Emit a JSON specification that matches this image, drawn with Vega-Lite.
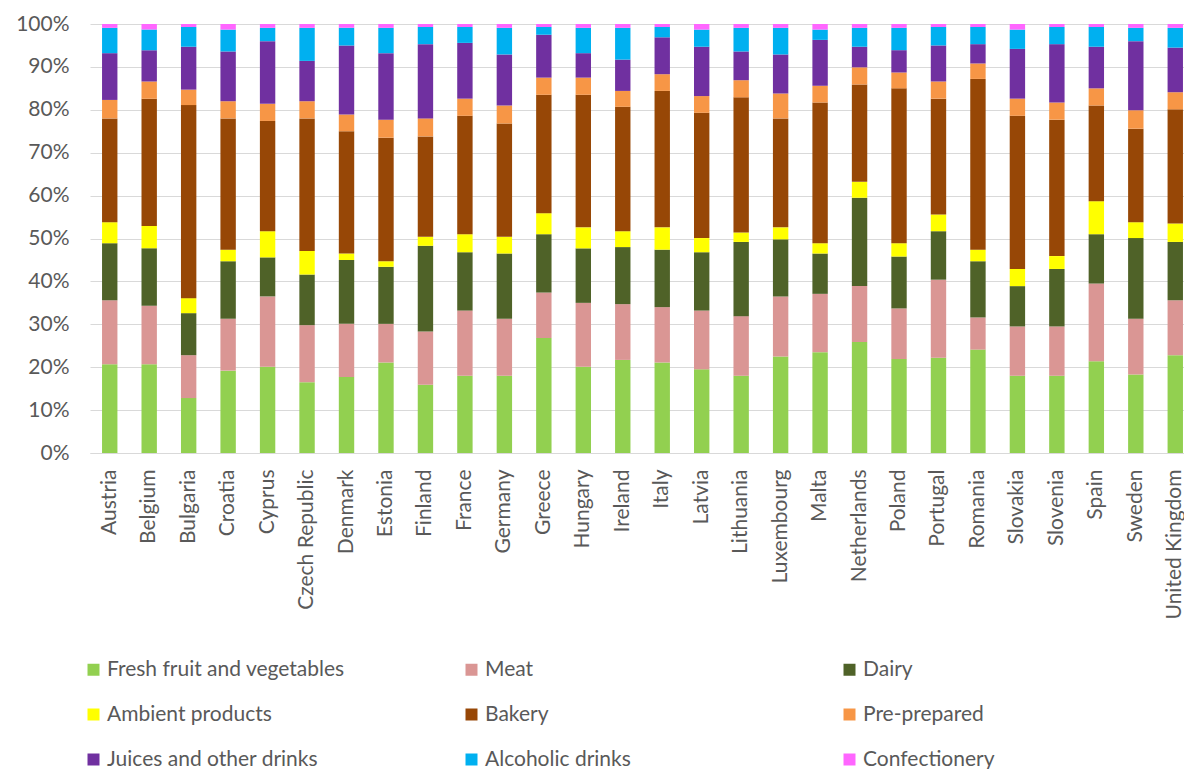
{
  "$schema": "https://vega.github.io/schema/vega-lite/v6.json",
  "autosize": {"type": "none"},
  "padding": {"left": 90, "top": 24, "right": 0, "bottom": 316},
  "width": 1094,
  "height": 429,
  "background": "white",
  "config": {"view": {"stroke": null}, "font": "Lato"},
  "data": {"values": [
    {"country": "Austria", "group": "Fresh fruit and vegetables", "share": 20.7},
    {"country": "Austria", "group": "Meat", "share": 14.9},
    {"country": "Austria", "group": "Dairy", "share": 13.3},
    {"country": "Austria", "group": "Ambient products", "share": 4.9},
    {"country": "Austria", "group": "Bakery", "share": 24.2},
    {"country": "Austria", "group": "Pre-prepared", "share": 4.3},
    {"country": "Austria", "group": "Juices and other drinks", "share": 10.9},
    {"country": "Austria", "group": "Alcoholic drinks", "share": 5.9},
    {"country": "Austria", "group": "Confectionery", "share": 0.9},
    {"country": "Belgium", "group": "Fresh fruit and vegetables", "share": 20.7},
    {"country": "Belgium", "group": "Meat", "share": 13.6},
    {"country": "Belgium", "group": "Dairy", "share": 13.4},
    {"country": "Belgium", "group": "Ambient products", "share": 5.2},
    {"country": "Belgium", "group": "Bakery", "share": 29.7},
    {"country": "Belgium", "group": "Pre-prepared", "share": 4.0},
    {"country": "Belgium", "group": "Juices and other drinks", "share": 7.3},
    {"country": "Belgium", "group": "Alcoholic drinks", "share": 4.8},
    {"country": "Belgium", "group": "Confectionery", "share": 1.3},
    {"country": "Bulgaria", "group": "Fresh fruit and vegetables", "share": 12.8},
    {"country": "Bulgaria", "group": "Meat", "share": 10.0},
    {"country": "Bulgaria", "group": "Dairy", "share": 9.8},
    {"country": "Bulgaria", "group": "Ambient products", "share": 3.5},
    {"country": "Bulgaria", "group": "Bakery", "share": 45.0},
    {"country": "Bulgaria", "group": "Pre-prepared", "share": 3.6},
    {"country": "Bulgaria", "group": "Juices and other drinks", "share": 10.0},
    {"country": "Bulgaria", "group": "Alcoholic drinks", "share": 4.6},
    {"country": "Bulgaria", "group": "Confectionery", "share": 0.7},
    {"country": "Croatia", "group": "Fresh fruit and vegetables", "share": 19.2},
    {"country": "Croatia", "group": "Meat", "share": 12.1},
    {"country": "Croatia", "group": "Dairy", "share": 13.4},
    {"country": "Croatia", "group": "Ambient products", "share": 2.7},
    {"country": "Croatia", "group": "Bakery", "share": 30.6},
    {"country": "Croatia", "group": "Pre-prepared", "share": 4.0},
    {"country": "Croatia", "group": "Juices and other drinks", "share": 11.6},
    {"country": "Croatia", "group": "Alcoholic drinks", "share": 5.1},
    {"country": "Croatia", "group": "Confectionery", "share": 1.3},
    {"country": "Cyprus", "group": "Fresh fruit and vegetables", "share": 20.1},
    {"country": "Cyprus", "group": "Meat", "share": 16.4},
    {"country": "Cyprus", "group": "Dairy", "share": 9.1},
    {"country": "Cyprus", "group": "Ambient products", "share": 6.1},
    {"country": "Cyprus", "group": "Bakery", "share": 25.7},
    {"country": "Cyprus", "group": "Pre-prepared", "share": 4.0},
    {"country": "Cyprus", "group": "Juices and other drinks", "share": 14.6},
    {"country": "Cyprus", "group": "Alcoholic drinks", "share": 3.1},
    {"country": "Cyprus", "group": "Confectionery", "share": 0.9},
    {"country": "Czech Republic", "group": "Fresh fruit and vegetables", "share": 16.5},
    {"country": "Czech Republic", "group": "Meat", "share": 13.3},
    {"country": "Czech Republic", "group": "Dairy", "share": 11.8},
    {"country": "Czech Republic", "group": "Ambient products", "share": 5.5},
    {"country": "Czech Republic", "group": "Bakery", "share": 30.9},
    {"country": "Czech Republic", "group": "Pre-prepared", "share": 4.0},
    {"country": "Czech Republic", "group": "Juices and other drinks", "share": 9.4},
    {"country": "Czech Republic", "group": "Alcoholic drinks", "share": 7.7},
    {"country": "Czech Republic", "group": "Confectionery", "share": 0.9},
    {"country": "Denmark", "group": "Fresh fruit and vegetables", "share": 17.7},
    {"country": "Denmark", "group": "Meat", "share": 12.4},
    {"country": "Denmark", "group": "Dairy", "share": 14.9},
    {"country": "Denmark", "group": "Ambient products", "share": 1.5},
    {"country": "Denmark", "group": "Bakery", "share": 28.5},
    {"country": "Denmark", "group": "Pre-prepared", "share": 3.9},
    {"country": "Denmark", "group": "Juices and other drinks", "share": 16.1},
    {"country": "Denmark", "group": "Alcoholic drinks", "share": 4.1},
    {"country": "Denmark", "group": "Confectionery", "share": 0.9},
    {"country": "Estonia", "group": "Fresh fruit and vegetables", "share": 21.1},
    {"country": "Estonia", "group": "Meat", "share": 9.0},
    {"country": "Estonia", "group": "Dairy", "share": 13.3},
    {"country": "Estonia", "group": "Ambient products", "share": 1.3},
    {"country": "Estonia", "group": "Bakery", "share": 28.8},
    {"country": "Estonia", "group": "Pre-prepared", "share": 4.2},
    {"country": "Estonia", "group": "Juices and other drinks", "share": 15.5},
    {"country": "Estonia", "group": "Alcoholic drinks", "share": 5.9},
    {"country": "Estonia", "group": "Confectionery", "share": 0.9},
    {"country": "Finland", "group": "Fresh fruit and vegetables", "share": 15.9},
    {"country": "Finland", "group": "Meat", "share": 12.4},
    {"country": "Finland", "group": "Dairy", "share": 20.0},
    {"country": "Finland", "group": "Ambient products", "share": 2.1},
    {"country": "Finland", "group": "Bakery", "share": 23.4},
    {"country": "Finland", "group": "Pre-prepared", "share": 4.2},
    {"country": "Finland", "group": "Juices and other drinks", "share": 17.3},
    {"country": "Finland", "group": "Alcoholic drinks", "share": 4.0},
    {"country": "Finland", "group": "Confectionery", "share": 0.7},
    {"country": "France", "group": "Fresh fruit and vegetables", "share": 18.0},
    {"country": "France", "group": "Meat", "share": 15.2},
    {"country": "France", "group": "Dairy", "share": 13.6},
    {"country": "France", "group": "Ambient products", "share": 4.2},
    {"country": "France", "group": "Bakery", "share": 27.6},
    {"country": "France", "group": "Pre-prepared", "share": 4.0},
    {"country": "France", "group": "Juices and other drinks", "share": 13.0},
    {"country": "France", "group": "Alcoholic drinks", "share": 3.7},
    {"country": "France", "group": "Confectionery", "share": 0.7},
    {"country": "Germany", "group": "Fresh fruit and vegetables", "share": 18.0},
    {"country": "Germany", "group": "Meat", "share": 13.3},
    {"country": "Germany", "group": "Dairy", "share": 15.2},
    {"country": "Germany", "group": "Ambient products", "share": 3.9},
    {"country": "Germany", "group": "Bakery", "share": 26.4},
    {"country": "Germany", "group": "Pre-prepared", "share": 4.2},
    {"country": "Germany", "group": "Juices and other drinks", "share": 11.9},
    {"country": "Germany", "group": "Alcoholic drinks", "share": 6.2},
    {"country": "Germany", "group": "Confectionery", "share": 0.9},
    {"country": "Greece", "group": "Fresh fruit and vegetables", "share": 26.8},
    {"country": "Greece", "group": "Meat", "share": 10.6},
    {"country": "Greece", "group": "Dairy", "share": 13.6},
    {"country": "Greece", "group": "Ambient products", "share": 4.9},
    {"country": "Greece", "group": "Bakery", "share": 27.6},
    {"country": "Greece", "group": "Pre-prepared", "share": 4.0},
    {"country": "Greece", "group": "Juices and other drinks", "share": 10.0},
    {"country": "Greece", "group": "Alcoholic drinks", "share": 1.8},
    {"country": "Greece", "group": "Confectionery", "share": 0.7},
    {"country": "Hungary", "group": "Fresh fruit and vegetables", "share": 20.1},
    {"country": "Hungary", "group": "Meat", "share": 14.9},
    {"country": "Hungary", "group": "Dairy", "share": 12.7},
    {"country": "Hungary", "group": "Ambient products", "share": 4.9},
    {"country": "Hungary", "group": "Bakery", "share": 30.9},
    {"country": "Hungary", "group": "Pre-prepared", "share": 4.0},
    {"country": "Hungary", "group": "Juices and other drinks", "share": 5.7},
    {"country": "Hungary", "group": "Alcoholic drinks", "share": 5.9},
    {"country": "Hungary", "group": "Confectionery", "share": 0.9},
    {"country": "Ireland", "group": "Fresh fruit and vegetables", "share": 21.7},
    {"country": "Ireland", "group": "Meat", "share": 13.0},
    {"country": "Ireland", "group": "Dairy", "share": 13.3},
    {"country": "Ireland", "group": "Ambient products", "share": 3.7},
    {"country": "Ireland", "group": "Bakery", "share": 29.0},
    {"country": "Ireland", "group": "Pre-prepared", "share": 3.7},
    {"country": "Ireland", "group": "Juices and other drinks", "share": 7.3},
    {"country": "Ireland", "group": "Alcoholic drinks", "share": 7.4},
    {"country": "Ireland", "group": "Confectionery", "share": 0.9},
    {"country": "Italy", "group": "Fresh fruit and vegetables", "share": 21.1},
    {"country": "Italy", "group": "Meat", "share": 12.9},
    {"country": "Italy", "group": "Dairy", "share": 13.4},
    {"country": "Italy", "group": "Ambient products", "share": 5.2},
    {"country": "Italy", "group": "Bakery", "share": 31.8},
    {"country": "Italy", "group": "Pre-prepared", "share": 3.9},
    {"country": "Italy", "group": "Juices and other drinks", "share": 8.6},
    {"country": "Italy", "group": "Alcoholic drinks", "share": 2.4},
    {"country": "Italy", "group": "Confectionery", "share": 0.7},
    {"country": "Latvia", "group": "Fresh fruit and vegetables", "share": 19.5},
    {"country": "Latvia", "group": "Meat", "share": 13.7},
    {"country": "Latvia", "group": "Dairy", "share": 13.6},
    {"country": "Latvia", "group": "Ambient products", "share": 3.3},
    {"country": "Latvia", "group": "Bakery", "share": 29.2},
    {"country": "Latvia", "group": "Pre-prepared", "share": 3.9},
    {"country": "Latvia", "group": "Juices and other drinks", "share": 11.5},
    {"country": "Latvia", "group": "Alcoholic drinks", "share": 4.0},
    {"country": "Latvia", "group": "Confectionery", "share": 1.3},
    {"country": "Lithuania", "group": "Fresh fruit and vegetables", "share": 18.0},
    {"country": "Lithuania", "group": "Meat", "share": 13.9},
    {"country": "Lithuania", "group": "Dairy", "share": 17.3},
    {"country": "Lithuania", "group": "Ambient products", "share": 2.2},
    {"country": "Lithuania", "group": "Bakery", "share": 31.5},
    {"country": "Lithuania", "group": "Pre-prepared", "share": 4.0},
    {"country": "Lithuania", "group": "Juices and other drinks", "share": 6.7},
    {"country": "Lithuania", "group": "Alcoholic drinks", "share": 5.5},
    {"country": "Lithuania", "group": "Confectionery", "share": 0.9},
    {"country": "Luxembourg", "group": "Fresh fruit and vegetables", "share": 22.5},
    {"country": "Luxembourg", "group": "Meat", "share": 14.0},
    {"country": "Luxembourg", "group": "Dairy", "share": 13.3},
    {"country": "Luxembourg", "group": "Ambient products", "share": 2.8},
    {"country": "Luxembourg", "group": "Bakery", "share": 25.4},
    {"country": "Luxembourg", "group": "Pre-prepared", "share": 5.8},
    {"country": "Luxembourg", "group": "Juices and other drinks", "share": 9.1},
    {"country": "Luxembourg", "group": "Alcoholic drinks", "share": 6.2},
    {"country": "Luxembourg", "group": "Confectionery", "share": 0.9},
    {"country": "Malta", "group": "Fresh fruit and vegetables", "share": 23.5},
    {"country": "Malta", "group": "Meat", "share": 13.6},
    {"country": "Malta", "group": "Dairy", "share": 9.4},
    {"country": "Malta", "group": "Ambient products", "share": 2.4},
    {"country": "Malta", "group": "Bakery", "share": 32.8},
    {"country": "Malta", "group": "Pre-prepared", "share": 3.9},
    {"country": "Malta", "group": "Juices and other drinks", "share": 10.7},
    {"country": "Malta", "group": "Alcoholic drinks", "share": 2.4},
    {"country": "Malta", "group": "Confectionery", "share": 1.3},
    {"country": "Netherlands", "group": "Fresh fruit and vegetables", "share": 25.9},
    {"country": "Netherlands", "group": "Meat", "share": 13.0},
    {"country": "Netherlands", "group": "Dairy", "share": 20.6},
    {"country": "Netherlands", "group": "Ambient products", "share": 3.7},
    {"country": "Netherlands", "group": "Bakery", "share": 22.7},
    {"country": "Netherlands", "group": "Pre-prepared", "share": 4.0},
    {"country": "Netherlands", "group": "Juices and other drinks", "share": 4.8},
    {"country": "Netherlands", "group": "Alcoholic drinks", "share": 4.4},
    {"country": "Netherlands", "group": "Confectionery", "share": 0.9},
    {"country": "Poland", "group": "Fresh fruit and vegetables", "share": 21.9},
    {"country": "Poland", "group": "Meat", "share": 11.8},
    {"country": "Poland", "group": "Dairy", "share": 12.1},
    {"country": "Poland", "group": "Ambient products", "share": 3.1},
    {"country": "Poland", "group": "Bakery", "share": 36.1},
    {"country": "Poland", "group": "Pre-prepared", "share": 3.7},
    {"country": "Poland", "group": "Juices and other drinks", "share": 5.2},
    {"country": "Poland", "group": "Alcoholic drinks", "share": 5.2},
    {"country": "Poland", "group": "Confectionery", "share": 0.9},
    {"country": "Portugal", "group": "Fresh fruit and vegetables", "share": 22.2},
    {"country": "Portugal", "group": "Meat", "share": 18.2},
    {"country": "Portugal", "group": "Dairy", "share": 11.3},
    {"country": "Portugal", "group": "Ambient products", "share": 3.9},
    {"country": "Portugal", "group": "Bakery", "share": 27.0},
    {"country": "Portugal", "group": "Pre-prepared", "share": 4.0},
    {"country": "Portugal", "group": "Juices and other drinks", "share": 8.4},
    {"country": "Portugal", "group": "Alcoholic drinks", "share": 4.3},
    {"country": "Portugal", "group": "Confectionery", "share": 0.7},
    {"country": "Romania", "group": "Fresh fruit and vegetables", "share": 24.1},
    {"country": "Romania", "group": "Meat", "share": 7.5},
    {"country": "Romania", "group": "Dairy", "share": 13.1},
    {"country": "Romania", "group": "Ambient products", "share": 2.7},
    {"country": "Romania", "group": "Bakery", "share": 39.8},
    {"country": "Romania", "group": "Pre-prepared", "share": 3.6},
    {"country": "Romania", "group": "Juices and other drinks", "share": 4.5},
    {"country": "Romania", "group": "Alcoholic drinks", "share": 4.0},
    {"country": "Romania", "group": "Confectionery", "share": 0.7},
    {"country": "Slovakia", "group": "Fresh fruit and vegetables", "share": 18.0},
    {"country": "Slovakia", "group": "Meat", "share": 11.5},
    {"country": "Slovakia", "group": "Dairy", "share": 9.4},
    {"country": "Slovakia", "group": "Ambient products", "share": 4.0},
    {"country": "Slovakia", "group": "Bakery", "share": 35.7},
    {"country": "Slovakia", "group": "Pre-prepared", "share": 4.0},
    {"country": "Slovakia", "group": "Juices and other drinks", "share": 11.6},
    {"country": "Slovakia", "group": "Alcoholic drinks", "share": 4.5},
    {"country": "Slovakia", "group": "Confectionery", "share": 1.3},
    {"country": "Slovenia", "group": "Fresh fruit and vegetables", "share": 18.0},
    {"country": "Slovenia", "group": "Meat", "share": 11.5},
    {"country": "Slovenia", "group": "Dairy", "share": 13.4},
    {"country": "Slovenia", "group": "Ambient products", "share": 3.0},
    {"country": "Slovenia", "group": "Bakery", "share": 31.8},
    {"country": "Slovenia", "group": "Pre-prepared", "share": 4.0},
    {"country": "Slovenia", "group": "Juices and other drinks", "share": 13.6},
    {"country": "Slovenia", "group": "Alcoholic drinks", "share": 4.0},
    {"country": "Slovenia", "group": "Confectionery", "share": 0.7},
    {"country": "Spain", "group": "Fresh fruit and vegetables", "share": 21.4},
    {"country": "Spain", "group": "Meat", "share": 18.1},
    {"country": "Spain", "group": "Dairy", "share": 11.5},
    {"country": "Spain", "group": "Ambient products", "share": 7.7},
    {"country": "Spain", "group": "Bakery", "share": 22.3},
    {"country": "Spain", "group": "Pre-prepared", "share": 4.0},
    {"country": "Spain", "group": "Juices and other drinks", "share": 9.7},
    {"country": "Spain", "group": "Alcoholic drinks", "share": 4.6},
    {"country": "Spain", "group": "Confectionery", "share": 0.7},
    {"country": "Sweden", "group": "Fresh fruit and vegetables", "share": 18.3},
    {"country": "Sweden", "group": "Meat", "share": 13.0},
    {"country": "Sweden", "group": "Dairy", "share": 18.8},
    {"country": "Sweden", "group": "Ambient products", "share": 3.7},
    {"country": "Sweden", "group": "Bakery", "share": 21.8},
    {"country": "Sweden", "group": "Pre-prepared", "share": 4.3},
    {"country": "Sweden", "group": "Juices and other drinks", "share": 16.1},
    {"country": "Sweden", "group": "Alcoholic drinks", "share": 3.1},
    {"country": "Sweden", "group": "Confectionery", "share": 0.9},
    {"country": "United Kingdom", "group": "Fresh fruit and vegetables", "share": 22.8},
    {"country": "United Kingdom", "group": "Meat", "share": 12.8},
    {"country": "United Kingdom", "group": "Dairy", "share": 13.6},
    {"country": "United Kingdom", "group": "Ambient products", "share": 4.3},
    {"country": "United Kingdom", "group": "Bakery", "share": 26.6},
    {"country": "United Kingdom", "group": "Pre-prepared", "share": 4.0},
    {"country": "United Kingdom", "group": "Juices and other drinks", "share": 10.4},
    {"country": "United Kingdom", "group": "Alcoholic drinks", "share": 4.6},
    {"country": "United Kingdom", "group": "Confectionery", "share": 0.9}
  ]},
  "transform": [
    {"window": [{"op": "row_number", "as": "layer"}], "groupby": ["country"]}
  ],
  "mark": {"type": "bar"},
  "encoding": {
    "x": {
      "field": "country",
      "type": "nominal",
      "sort": null,
      "scale": {"range": [0, 1105], "paddingInner": 0.61, "paddingOuter": 0.305},
      "axis": {
        "title": null,
        "labelAngle": -90,
        "labelFontSize": 21,
        "labelColor": "#595959",
        "labelPadding": 16,
        "ticks": false,
        "domainColor": "#d9d9d9",
        "domainWidth": 1
      }
    },
    "y": {
      "field": "share",
      "type": "quantitative",
      "stack": "normalize",
      "scale": {"domain": [0, 1], "nice": false},
      "axis": {
        "title": null,
        "values": [0, 0.1, 0.2, 0.3, 0.4, 0.5, 0.6, 0.7, 0.8, 0.9, 1],
        "format": ".0%",
        "labelFontSize": 21,
        "labelColor": "#595959",
        "labelPadding": 21,
        "ticks": false,
        "domain": false,
        "grid": true,
        "gridColor": "#d9d9d9",
        "gridWidth": 1
      }
    },
    "color": {
      "field": "group",
      "type": "nominal",
      "sort": ["Fresh fruit and vegetables", "Meat", "Dairy", "Ambient products", "Bakery", "Pre-prepared", "Juices and other drinks", "Alcoholic drinks", "Confectionery"],
      "scale": {
        "domain": ["Fresh fruit and vegetables", "Meat", "Dairy", "Ambient products", "Bakery", "Pre-prepared", "Juices and other drinks", "Alcoholic drinks", "Confectionery"],
        "range": ["#92d050", "#da9694", "#4f6228", "#ffff00", "#974706", "#f79646", "#7030a0", "#00b0f0", "#ff66ff"]
      },
      "legend": {
        "title": null,
        "orient": "none",
        "legendX": -7,
        "legendY": 635,
        "direction": "horizontal",
        "columns": 3,
        "gridAlign": "all",
        "columnPadding": 116,
        "rowPadding": 23,
        "symbolType": "square",
        "symbolSize": 144,
        "symbolStrokeWidth": 0,
        "labelFontSize": 21,
        "labelColor": "#595959",
        "labelOffset": 3,
        "labelLimit": 400
      }
    },
    "order": {"field": "layer", "type": "quantitative", "sort": "ascending"}
  }
}
